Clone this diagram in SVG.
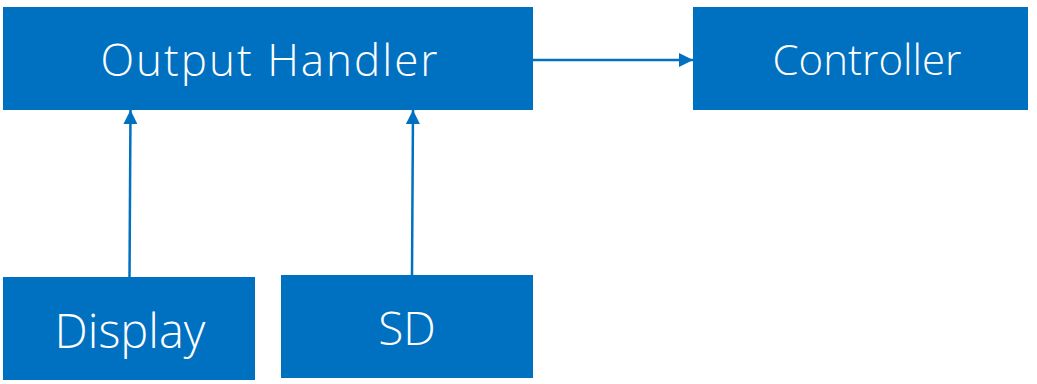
<svg xmlns="http://www.w3.org/2000/svg" width="1037" height="384" viewBox="0 0 1037 384">
<style>
.box{fill:#0070C0}
.lbl{fill:#fff;font-family:"Open Sans","DejaVu Sans",sans-serif;font-weight:300;text-anchor:middle}
.con{stroke:#0070C0;stroke-width:2.5;fill:none}
</style>
<defs>
<marker id="ah" viewBox="0 0 10 10" refX="10" refY="5" markerWidth="5.6" markerHeight="5.6" orient="auto" markerUnits="strokeWidth">
<path d="M0,0 L10,5 L0,10 z" fill="#0070C0"/>
</marker>
</defs>
<rect width="1037" height="384" fill="#fff"/>
<g id="connectors">
<line class="con" x1="533" y1="60" x2="693" y2="60" marker-end="url(#ah)"/>
<line class="con" x1="129.5" y1="277" x2="130.5" y2="110" marker-end="url(#ah)"/>
<line class="con" x1="412" y1="275" x2="413" y2="110" marker-end="url(#ah)"/>
</g>
<g id="output-handler">
<rect class="box" x="3" y="7" width="530" height="103"/>
<text class="lbl" x="270" y="76" font-size="44" letter-spacing="2">Output Handler</text>
</g>
<g id="controller">
<rect class="box" x="693" y="7" width="335" height="103"/>
<text class="lbl" x="867" y="75" font-size="42">Controller</text>
</g>
<g id="display">
<rect class="box" x="3" y="277" width="252" height="103"/>
<text class="lbl" x="130" y="348" font-size="47">Display</text>
</g>
<g id="sd">
<rect class="box" x="281" y="275" width="252" height="103"/>
<text class="lbl" x="407" y="345" font-size="46">SD</text>
</g>
</svg>
